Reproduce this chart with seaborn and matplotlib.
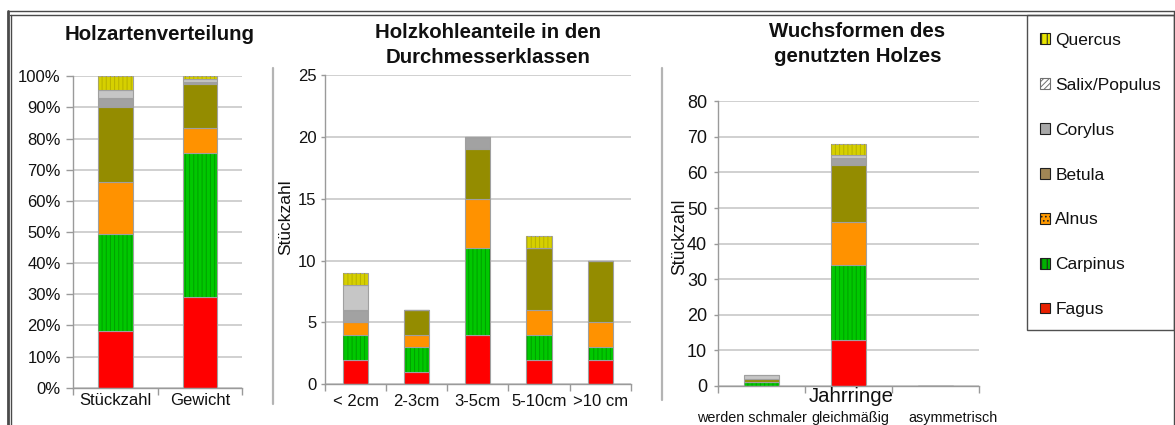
import numpy as np
import pandas as pd
import matplotlib
matplotlib.use("Agg")
import matplotlib.pyplot as plt
import matplotlib.transforms as mtransforms
from matplotlib.patches import Patch, Rectangle
from matplotlib.lines import Line2D
from matplotlib.ticker import PercentFormatter, MultipleLocator
import seaborn as sns

# ---------------------------------------------------------------- data
species = ["Fagus", "Carpinus", "Alnus", "Betula", "Corylus", "Salix/Populus", "Quercus"]

# Holzartenverteilung, shares in percent (stack order = species order)
anteil_kategorien = ["Stückzahl", "Gewicht"]
anteil_stueckzahl = [18.3, 31.0, 16.9, 23.9, 2.8, 2.8, 4.3]
anteil_gewicht = [29.0, 46.3, 8.2, 14.0, 0.8, 0.7, 1.0]

# Holzkohleanteile in den Durchmesserklassen (counts)
durchmesser = ["< 2cm", "2-3cm", "3-5cm", "5-10cm", ">10 cm"]
dm_fagus = [2, 1, 4, 2, 2]
dm_carpinus = [2, 2, 7, 2, 1]
dm_alnus = [1, 1, 4, 2, 2]
dm_betula = [0, 2, 4, 5, 5]
dm_corylus = [1, 0, 1, 0, 0]
dm_salix = [2, 0, 0, 0, 0]
dm_quercus = [1, 0, 0, 1, 0]

# Wuchsformen des genutzten Holzes (counts)
jahrringe = ["werden schmaler", "gleichmäßig", "asymmetrisch"]
wf_fagus = [0, 13, 0]
wf_carpinus = [1, 21, 0]
wf_alnus = [0, 12, 0]
wf_betula = [1, 16, 0]
wf_corylus = [0, 2, 0]
wf_salix = [1, 1, 0]
wf_quercus = [0, 3, 0]

# ---------------------------------------------------------------- styling
fill = {"Fagus": "#FF0000", "Carpinus": "#00C800", "Alnus": "#FF9200",
        "Betula": "#948C00", "Corylus": "#A2A2A2", "Salix/Populus": "#C6C6C6",
        "Quercus": "#D6D000"}
stripe = {"Carpinus": "#009E00", "Quercus": "#B8B000"}
legend_fill = {"Fagus": "#E82000", "Carpinus": "#00B000", "Alnus": "#FF9900",
               "Betula": "#A08655", "Corylus": "#A8A8A8", "Salix/Populus": "#FFFFFF",
               "Quercus": "#E8E400"}
legend_hatch = {"Carpinus": "|||", "Quercus": "|||", "Alnus": "....",
                "Salix/Populus": "//////"}

EDGE = "#A0A0A0"
AXC = "#9A9A9A"
GRID = "#C8C8C8"

sns.set_theme(style="white")
plt.rcParams["font.family"] = ["Liberation Sans", "DejaVu Sans"]
plt.rcParams["hatch.linewidth"] = 0.7

W, H = 1175, 425
fig = plt.figure(figsize=(W / 100, H / 100), dpi=100)


def fx(x):
    return x / W


def fy(y):
    return 1 - y / H


def add_axes(x0, x1, ytop, ybot):
    return fig.add_axes([fx(x0), fy(ybot), (x1 - x0) / W, (ybot - ytop) / H])


def stacked(ax, cats, table, width):
    bottom = np.zeros(len(cats))
    for sp in species:
        vals = np.asarray(table[sp], dtype=float)
        df = pd.DataFrame({"kat": cats, "wert": vals})
        sns.barplot(data=df, x="kat", y="wert", order=cats, bottom=bottom.copy(),
                    color=fill[sp], saturation=1, width=width, edgecolor=EDGE,
                    linewidth=0.8, errorbar=None, ax=ax)
        if sp in stripe:
            sns.barplot(data=df, x="kat", y="wert", order=cats, bottom=bottom.copy(),
                        color=stripe[sp], saturation=1, width=width,
                        facecolor="none", edgecolor=stripe[sp],
                        linewidth=0, hatch="||||", errorbar=None, ax=ax)
        bottom += vals
    ax.set_xlabel("")
    ax.set_ylabel("")


def style_axes(ax, n, ysize, ypad, xsize, xpad, ytick_len):
    for s in ("top", "right"):
        ax.spines[s].set_visible(False)
    for s in ("left", "bottom"):
        ax.spines[s].set_color(AXC)
        ax.spines[s].set_linewidth(1.0)
    ax.yaxis.grid(True, color=GRID, lw=1.2)
    ax.set_axisbelow(True)
    ax.set_xlim(-0.5, n - 0.5)
    ax.set_xticks(np.arange(n + 1) - 0.5, minor=True)
    ax.tick_params(axis="x", which="major", length=0, labelsize=xsize, pad=xpad,
                   colors="#111111")
    ax.tick_params(axis="x", which="minor", bottom=True, length=5, color=AXC)
    ax.tick_params(axis="y", left=True, length=ytick_len, color=AXC, width=1,
                   labelsize=ysize, pad=ypad, colors="#111111")


# ---------------------------------------------------------------- panel 1
ax1 = add_axes(73.3, 242, 76.3, 387.7)
stacked(ax1, anteil_kategorien,
        dict(zip(species, zip(anteil_stueckzahl, anteil_gewicht))), 0.41)
ax1.set_ylim(0, 100)
ax1.yaxis.set_major_locator(MultipleLocator(10))
ax1.yaxis.set_major_formatter(PercentFormatter(decimals=0))
style_axes(ax1, 2, 12, 4, 12, 4, 5)

# ---------------------------------------------------------------- panel 2
ax2 = add_axes(325, 630.7, 75, 384.3)
stacked(ax2, durchmesser,
        {"Fagus": dm_fagus, "Carpinus": dm_carpinus, "Alnus": dm_alnus,
         "Betula": dm_betula, "Corylus": dm_corylus, "Salix/Populus": dm_salix,
         "Quercus": dm_quercus}, 0.41)
ax2.set_ylim(0, 25)
ax2.yaxis.set_major_locator(MultipleLocator(5))
style_axes(ax2, 5, 12, 3, 12, 7, 3)
ax2.set_ylabel("Stückzahl", fontsize=12.5, color="#111111")
ax2.yaxis.set_label_coords(-0.105, 0.539)

# ---------------------------------------------------------------- panel 3
ax3 = add_axes(718.3, 979, 101.3, 386)
stacked(ax3, jahrringe,
        {"Fagus": wf_fagus, "Carpinus": wf_carpinus, "Alnus": wf_alnus,
         "Betula": wf_betula, "Corylus": wf_corylus, "Salix/Populus": wf_salix,
         "Quercus": wf_quercus}, 0.4)
ax3.set_ylim(0, 80)
ax3.yaxis.set_major_locator(MultipleLocator(10))
style_axes(ax3, 3, 13, 5, 10.4, 18, 3)
ax3.set_ylabel("Stückzahl", fontsize=12.7, color="#111111")
ax3.yaxis.set_label_coords(-0.115, 0.524)
for lab, dx in zip(ax3.get_xticklabels(), (-10, 2, 17)):
    lab.set_transform(lab.get_transform()
                      + mtransforms.ScaledTranslation(dx / 100, 0, fig.dpi_scale_trans))
fig.text(fx(851), fy(397), "Jahrringe", ha="center", va="center",
         fontsize=14.7, color="#111111")

# ---------------------------------------------------------------- titles
title_kw = dict(ha="center", va="center", fontsize=14.7, fontweight="bold",
                color="#111111", linespacing=1.38)
fig.text(fx(160), fy(35), "Holzartenverteilung", **title_kw)
fig.text(fx(488), fy(45), "Holzkohleanteile in den\nDurchmesserklassen", **title_kw)
fig.text(fx(857.5), fy(44), "Wuchsformen des\ngenutzten Holzes", **title_kw)

# ---------------------------------------------------------------- frames
def fig_line(xs, ys, color="#4A4A4A", lw=1.0):
    fig.add_artist(Line2D([fx(x) for x in xs], [fy(y) for y in ys],
                          transform=fig.transFigure, color=color, lw=lw))


fig_line([7.5, 1174], [11, 11])
fig_line([10, 1174], [14.5, 14.5])
fig_line([8, 8], [11, 425], lw=2.0)
fig_line([10.5, 10.5], [14.5, 425])
fig_line([1174, 1174], [11, 425])
fig_line([272.5, 272.5], [68, 404], color="#B4B4B4", lw=1.6)
fig_line([661.5, 661.5], [68, 400], color="#B4B4B4", lw=1.6)

fig.add_artist(Rectangle((fx(1027), fy(330)), (1174 - 1027) / W, (330 - 14.5) / H,
                         transform=fig.transFigure, fill=False,
                         edgecolor="#505050", lw=1.0))

# ---------------------------------------------------------------- legend
order = species[::-1]
handles = []
for sp in order:
    ec = "#707070" if sp == "Salix/Populus" else "#202020"
    handles.append(Patch(facecolor=legend_fill[sp], edgecolor=ec, lw=0.8,
                         hatch=legend_hatch.get(sp)))
fig.legend(handles, order, loc="upper left", bbox_to_anchor=(fx(1040), fy(33)),
           frameon=False, fontsize=12.5, handlelength=0.58, handleheight=0.58,
           handletextpad=0.3, labelspacing=1.72, borderpad=0, borderaxespad=0,
           labelcolor="#111111")

fig.savefig("out.png", dpi=100)
